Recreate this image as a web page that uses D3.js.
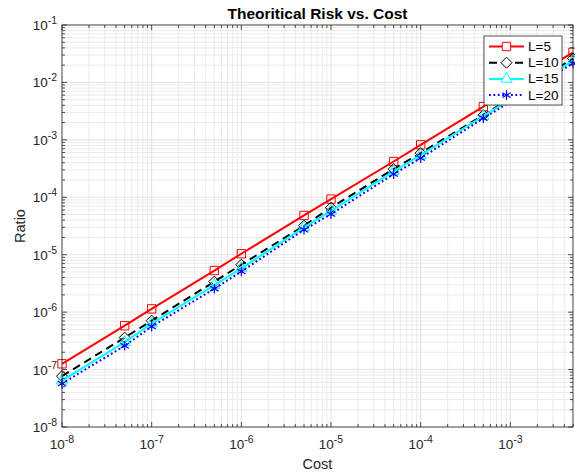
<!DOCTYPE html>
<html><head><meta charset="utf-8">
<script src="https://cdn.jsdelivr.net/npm/d3@7"></script>
<style>body{margin:0;background:#fff}svg{display:block}text{font-family:"Liberation Sans",Arial,Helvetica,sans-serif}</style>
</head><body><svg id="c" width="575" height="473"></svg>
<script>
const cost = [1e-8,5e-8,1e-7,5e-7,1e-6,5e-6,1e-5,5e-5,1e-4,5e-4,5e-3];
const L5  = [1.26e-7,5.8e-7,1.14e-6,5.3e-6,1.04e-5,4.83e-5,9.3e-5,4.2e-4,8.2e-4,3.8e-3,0.0335];
const L10 = [7.7e-8,3.6e-7,7.1e-7,3.4e-6,6.7e-6,3.2e-5,6.6e-5,3.1e-4,5.9e-4,2.7e-3,0.026];
const L15 = [6.4e-8,3.0e-7,6.3e-7,2.95e-6,5.8e-6,3.0e-5,5.8e-5,2.83e-4,5.4e-4,2.6e-3,0.024];
const L20 = [5.7e-8,2.6e-7,5.6e-7,2.56e-6,5.1e-6,2.72e-5,5.1e-5,2.53e-4,4.8e-4,2.38e-3,0.0215];
const seriesNames = ["L=5","L=10","L=15","L=20"];
const xExp = [-8,-7,-6,-5,-4,-3];
const yExp = [-8,-7,-6,-5,-4,-3,-2,-1];

const series = [
  {name:seriesNames[0], vals:L5,  color:"#ff0000", dash:null,  marker:"square"},
  {name:seriesNames[1], vals:L10, color:"#000000", dash:"8,5", marker:"diamond"},
  {name:seriesNames[2], vals:L15, color:"#00ffff", dash:null,  marker:"triangle"},
  {name:seriesNames[3], vals:L20, color:"#0000ff", dash:"1.8,2.6", marker:"star"}
];

const svg = d3.select("#c");
const m = {l:62, r:573, t:25, b:427};
const x = d3.scaleLog().domain([1e-8,5e-3]).range([m.l,m.r]);
const y = d3.scaleLog().domain([1e-8,1e-1]).range([m.b,m.t]);

const xMinor=[], yMinor=[];
for(let e=-8;e<=-3;e++) for(let k=2;k<=9;k++){const v=k*Math.pow(10,e); if(v<=5e-3+1e-12) xMinor.push(v);}
for(let e=-8;e<=-2;e++) for(let k=2;k<=9;k++){yMinor.push(k*Math.pow(10,e));}
const xMajor = xExp.map(e=>Math.pow(10,e));
const yMajor = yExp.map(e=>Math.pow(10,e));

const g = svg.append("g");
g.selectAll(".gxm").data(xMinor).join("line").attr("x1",d=>x(d)).attr("x2",d=>x(d)).attr("y1",m.t).attr("y2",m.b).attr("stroke","#e6e6e6").attr("stroke-width",0.8);
g.selectAll(".gym").data(yMinor).join("line").attr("y1",d=>y(d)).attr("y2",d=>y(d)).attr("x1",m.l).attr("x2",m.r).attr("stroke","#e6e6e6").attr("stroke-width",0.8);
g.selectAll(".gxM").data(xMajor).join("line").attr("x1",d=>x(d)).attr("x2",d=>x(d)).attr("y1",m.t).attr("y2",m.b).attr("stroke","#dcdcdc").attr("stroke-width",0.8);
g.selectAll(".gyM").data(yMajor).join("line").attr("y1",d=>y(d)).attr("y2",d=>y(d)).attr("x1",m.l).attr("x2",m.r).attr("stroke","#dcdcdc").attr("stroke-width",0.8);

const line = d3.line().x((d,i)=>x(cost[i])).y(d=>y(d));
const diamond = "M0,-5.5L5.5,0L0,5.5L-5.5,0Z";
const sym = {
  square: ()=>d3.symbol().type(d3.symbolSquare).size(70)(),
  diamond: ()=>diamond,
  triangle: ()=>d3.symbol().type(d3.symbolTriangle).size(55)(),
  star: ()=>d3.symbol().type(d3.symbolAsterisk).size(65)()
};
const plot = g.append("g");
series.forEach(s=>{
  plot.append("path").attr("d",line(s.vals)).attr("fill","none").attr("stroke",s.color).attr("stroke-width",2)
    .attr("stroke-dasharray",s.dash);
  plot.selectAll(null).data(s.vals).join("path")
    .attr("transform",(d,i)=>`translate(${x(cost[i])},${y(d)})`)
    .attr("d",sym[s.marker]()).attr("fill","none").attr("stroke",s.color).attr("stroke-width",s.marker==="star"?1.2:1);
});

g.append("rect").attr("x",m.l).attr("y",m.t).attr("width",m.r-m.l).attr("height",m.b-m.t).attr("fill","none").attr("stroke","#262626").attr("stroke-width",0.8);
const tk = g.append("g").attr("stroke","#262626").attr("stroke-width",0.8);
[[xMajor,5],[xMinor,3]].forEach(([arr,len])=>{
  tk.selectAll(null).data(arr).join("line").attr("x1",d=>x(d)).attr("x2",d=>x(d)).attr("y1",m.b).attr("y2",m.b-len);
  tk.selectAll(null).data(arr).join("line").attr("x1",d=>x(d)).attr("x2",d=>x(d)).attr("y1",m.t).attr("y2",m.t+len);
});
[[yMajor,5],[yMinor,3]].forEach(([arr,len])=>{
  tk.selectAll(null).data(arr).join("line").attr("y1",d=>y(d)).attr("y2",d=>y(d)).attr("x1",m.l).attr("x2",m.l+len);
  tk.selectAll(null).data(arr).join("line").attr("y1",d=>y(d)).attr("y2",d=>y(d)).attr("x1",m.r).attr("x2",m.r-len);
});

xExp.forEach(e=>{
  const t = svg.append("text").attr("x",x(Math.pow(10,e))).attr("y",449).attr("text-anchor","middle").attr("fill","#262626").attr("font-size",13.5);
  t.append("tspan").text("10");
  t.append("tspan").attr("dy",-6).attr("font-size",10.5).text(e);
});
yExp.forEach(e=>{
  const t = svg.append("text").attr("x",57).attr("y",y(Math.pow(10,e))+5).attr("text-anchor","end").attr("fill","#262626").attr("font-size",13.5);
  t.append("tspan").text("10");
  t.append("tspan").attr("dy",-6).attr("font-size",10.5).text(e);
});

svg.append("text").attr("x",(m.l+m.r)/2).attr("y",469).attr("text-anchor","middle").attr("font-size",14.5).attr("fill","#262626").text("Cost");
svg.append("text").attr("transform",`translate(25,${(m.t+m.b)/2}) rotate(-90)`).attr("text-anchor","middle").attr("font-size",14.5).attr("fill","#262626").text("Ratio");
svg.append("text").attr("x",(m.l+m.r)/2).attr("y",19).attr("text-anchor","middle").attr("font-size",15.5).attr("font-weight","bold").attr("fill","#000").text("Theoritical Risk vs. Cost");

const lg = svg.append("g");
lg.append("rect").attr("x",484).attr("y",36).attr("width",78).attr("height",69).attr("fill","#fff").attr("stroke","#262626").attr("stroke-width",0.8);
series.forEach((s,i)=>{
  const yy = 46.5 + i*16.2;
  lg.append("line").attr("x1",489).attr("x2",524).attr("y1",yy).attr("y2",yy).attr("stroke",s.color).attr("stroke-width",2).attr("stroke-dasharray",s.dash);
  lg.append("path").attr("transform",`translate(506.5,${yy})`).attr("d",sym[s.marker]()).attr("fill","#fff").attr("stroke",s.color).attr("stroke-width",s.marker==="star"?1.2:1);
  lg.append("text").attr("x",528).attr("y",yy+4.5).attr("font-size",13.5).attr("fill","#000").text(s.name);
});
</script></body></html>
